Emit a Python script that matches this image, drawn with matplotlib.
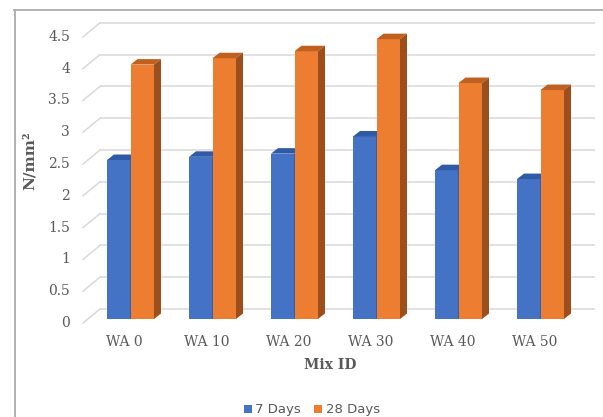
import matplotlib
matplotlib.use("Agg")
import matplotlib.pyplot as plt
from matplotlib.patches import Polygon, Rectangle, Patch
from matplotlib.lines import Line2D
import numpy as np

# Compressive strength by mix
mixes = ["WA 0", "WA 10", "WA 20", "WA 30", "WA 40", "WA 50"]
days7 = [2.50, 2.55, 2.60, 2.87, 2.34, 2.20]
days28 = [4.00, 4.10, 4.21, 4.40, 3.71, 3.60]
yticks = [0, 0.5, 1, 1.5, 2, 2.5, 3, 3.5, 4, 4.5]
ytick_labels = ["0", "0.5", "1", "1.5", "2", "2.5", "3", "3.5", "4", "4.5"]

W, H = 603, 417
fig = plt.figure(figsize=(W / 100, H / 100), dpi=100)
fig.patch.set_facecolor("white")

# pixel geometry of the plotting region
px_per_cat = 82.0
px_per_unit = 63.6
x0_px = 130.5          # centre of first group (pixels from left)
y0_px = 319.0          # value 0 on the front plane (pixels from top)
xlim = (-0.5, 5.7)
ylim = (-0.4, 4.9)
left = x0_px + xlim[0] * px_per_cat
right = x0_px + xlim[1] * px_per_cat
top = y0_px - ylim[1] * px_per_unit
bottom = y0_px - ylim[0] * px_per_unit
ax = fig.add_axes([left / W, (H - bottom) / H, (right - left) / W, (bottom - top) / H])
ax.set_xlim(*xlim)
ax.set_ylim(*ylim)
ax.axis("off")

def dx(px):
    return px / px_per_cat

def dy(px):
    return px / px_per_unit

# back wall gridlines with the slanted side-wall segments
grid_col = "#D9D9D9"
wall_x0, wall_x1 = dx(100 - x0_px), dx(595 - x0_px)
side_x0 = dx(83 - x0_px)
for v in yticks:
    ax.plot([wall_x0, wall_x1], [v + dy(10), v + dy(10)], color=grid_col, lw=1.1,
            clip_on=False, zorder=1, solid_capstyle="butt")
    ax.plot([side_x0, wall_x0], [v - dy(4), v + dy(10)], color=grid_col, lw=1.1,
            clip_on=False, zorder=1)

# y tick labels
for v, lab in zip(yticks, ytick_labels):
    ax.text(dx(70 - x0_px), v - dy(4), lab, ha="right", va="center",
            fontsize=10, family="DejaVu Serif", color="#595959")

# 3-D looking bars
bw = dx(23.5)
ddx, ddy = dx(7), dy(5.5)

def bar3d(xl, h, front, topc, side, z):
    xr = xl + bw
    ax.add_patch(Rectangle((xl, 0), bw, h, facecolor=front, edgecolor="none", zorder=z))
    ax.add_patch(Polygon([(xl, h), (xr, h), (xr + ddx, h + ddy), (xl + ddx, h + ddy)],
                         closed=True, facecolor=topc, edgecolor="none", zorder=z))
    ax.add_patch(Polygon([(xr, 0), (xr + ddx, ddy), (xr + ddx, h + ddy), (xr, h)],
                         closed=True, facecolor=side, edgecolor="none", zorder=z))

x = np.arange(len(mixes))
for i in range(len(mixes)):
    bar3d(x[i] - bw, days7[i], "#4472C4", "#2F5AA6", "#284C8C", 3 + 2 * i)
    bar3d(x[i], days28[i], "#ED7D31", "#C0601E", "#9C4E1C", 4 + 2 * i)

# category labels
for i, m in enumerate(mixes):
    ax.text(x[i] - dx(6), -dy(23), m, ha="center", va="center",
            fontsize=10, family="DejaVu Serif", color="#595959")

# axis titles
fig.text(330 / W, 1 - 365 / H, "Mix ID", ha="center", va="center",
         fontsize=10, family="DejaVu Serif", fontweight="bold", color="#595959")
fig.text(30 / W, 1 - 161 / H, "N/mm²", ha="center", va="center", rotation=90,
         fontsize=11, family="DejaVu Serif", fontweight="bold", color="#595959")

# legend
handles = [Patch(facecolor="#4472C4", edgecolor="none", label="7 Days"),
           Patch(facecolor="#ED7D31", edgecolor="none", label="28 Days")]
fig.legend(handles=handles, loc="center", bbox_to_anchor=(312 / W, 1 - 410 / H),
           ncol=2, frameon=False, handlelength=0.55, handleheight=0.55,
           handletextpad=0.3, columnspacing=1.0,
           prop={"family": "DejaVu Sans", "size": 9.5}, labelcolor="#595959")

# chart area border
border = "#ABABAB"
fig.add_artist(Line2D([14.5 / W, 14.5 / W], [0, 1 - 10 / H], color=border, lw=1.3))
fig.add_artist(Line2D([14 / W, 1], [1 - 10 / H, 1 - 10 / H], color=border, lw=1.3))

fig.savefig("out.png", dpi=100, facecolor="white")
